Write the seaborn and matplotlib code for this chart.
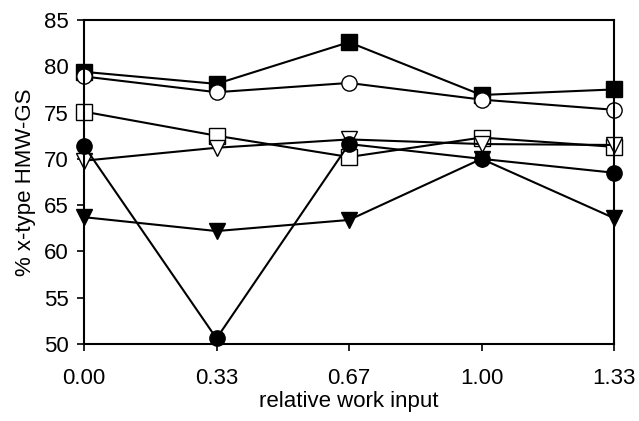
import matplotlib
matplotlib.use("Agg")
import matplotlib.pyplot as plt
import seaborn as sns
import numpy as np
import pandas as pd

x_labels = ["0.00", "0.33", "0.67", "1.00", "1.33"]
x_pos = [0, 1, 2, 3, 4]

filled_square = [79.4, 78.1, 82.6, 76.9, 77.5]
open_circle = [78.9, 77.2, 78.2, 76.4, 75.3]
open_square = [75.1, 72.5, 70.2, 72.3, 71.3]
open_triangle = [69.8, 71.2, 72.1, 71.6, 71.5]
filled_circle = [71.4, 50.6, 71.6, 70.0, 68.5]
filled_triangle = [63.7, 62.2, 63.4, 70.0, 63.6]

series = [
    (filled_square, "s", "black"),
    (open_circle, "o", "white"),
    (open_square, "s", "white"),
    (open_triangle, "v", "white"),
    (filled_circle, "o", "black"),
    (filled_triangle, "v", "black"),
]

sns.set_theme(style="white")
plt.rcParams["font.family"] = ["Liberation Sans", "DejaVu Sans"]

fig = plt.figure(figsize=(6.39, 4.21), dpi=100)
ax = fig.add_axes([84 / 639, 1 - 344 / 421, (614 - 84) / 639, (344 - 20) / 421])

for vals, m, fc in series:
    df = pd.DataFrame({"x": x_pos, "y": vals})
    sns.lineplot(data=df, x="x", y="y", ax=ax, color="black", linewidth=1.5,
                 marker=m, markersize=11, markerfacecolor=fc,
                 markeredgecolor="black", markeredgewidth=1.0)

ax.set_xlim(0, 4)
ax.set_ylim(50, 85)
ax.set_xticks(x_pos)
ax.set_xticklabels(x_labels)
ax.set_yticks(np.arange(50, 86, 5))
ax.tick_params(axis="both", direction="out", length=5, width=1.2, labelsize=16,
               color="black", labelcolor="black", bottom=True, left=True)
ax.tick_params(axis="x", pad=12)
ax.tick_params(axis="y", pad=6)
ax.set_xlabel("relative work input", fontsize=16, color="black", labelpad=2)
ax.set_ylabel("% x-type HMW-GS", fontsize=16, color="black", labelpad=6)
for s in ax.spines.values():
    s.set_visible(True)
    s.set_color("black")
    s.set_linewidth(1.5)
for a in ax.lines:
    a.set_clip_on(False)

fig.savefig("out.png", dpi=100)
